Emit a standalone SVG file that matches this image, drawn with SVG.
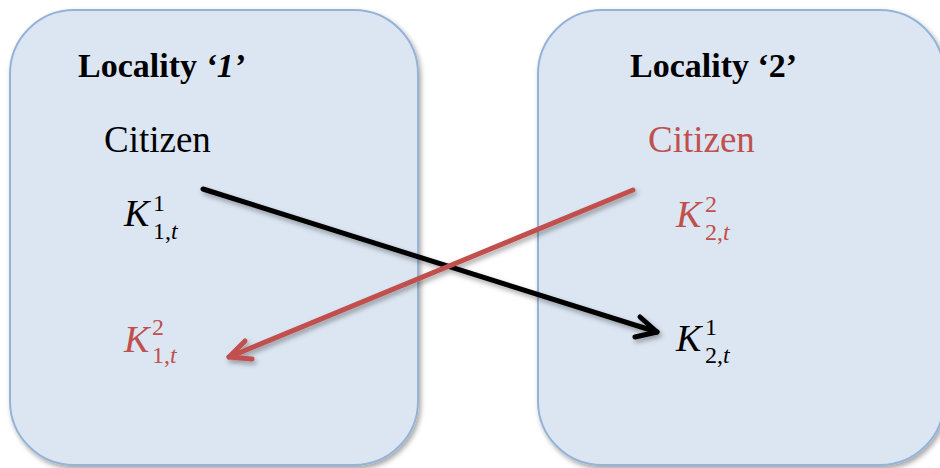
<svg xmlns="http://www.w3.org/2000/svg" width="940" height="468" viewBox="0 0 940 468">
  <defs>
    <filter id="shadow" x="-10%" y="-10%" width="130%" height="130%">
      <feDropShadow dx="2" dy="3" stdDeviation="2.5" flood-color="#000" flood-opacity="0.35"/>
    </filter>
    <style>
      .box { fill: #DCE6F2; stroke: #95B3D7; stroke-width: 2; }
      .title { font-family: "Liberation Serif", "Times New Roman", serif; font-weight: bold; font-size: 34px; fill: #000; }
      .label { font-family: "Liberation Serif", "DejaVu Serif", serif; font-size: 37px; }
      .math { font-family: "Liberation Serif", "DejaVu Serif", serif; font-size: 38px; }
      .sup { font-size: 24px; font-style: normal; }
      .ital { font-style: italic; }
      .black { fill: #000; }
      .red { fill: #C0504D; }
      .arrow { fill: none; stroke-width: 5; stroke-linecap: round; stroke-linejoin: round; }
    </style>
  </defs>

  <g id="locality-1">
    <rect class="box" x="10" y="10" width="408" height="455" rx="64" ry="64" filter="url(#shadow)"/>
    <text class="title" x="78" y="77">Locality <tspan font-style="italic">‘1’</tspan></text>
    <text class="label black" x="104" y="152">Citizen</text>
    <text class="math black" x="124" y="226"><tspan class="ital">K</tspan></text>
    <text class="math black"><tspan class="sup" x="153" y="211">1</tspan></text>
    <text class="math black"><tspan class="sup" x="153" y="239">1,<tspan class="ital">t</tspan></tspan></text>
    <text class="math red" x="124" y="352"><tspan class="ital">K</tspan></text>
    <text class="math red"><tspan class="sup" x="152" y="335">2</tspan></text>
    <text class="math red"><tspan class="sup" x="152" y="363">1,<tspan class="ital">t</tspan></tspan></text>
  </g>

  <g id="locality-2">
    <rect class="box" x="538" y="10" width="406" height="455" rx="64" ry="64" filter="url(#shadow)"/>
    <text class="title" x="630" y="77">Locality ‘2’</text>
    <text class="label red" x="648" y="152">Citizen</text>
    <text class="math red" x="676" y="227"><tspan class="ital">K</tspan></text>
    <text class="math red"><tspan class="sup" x="705" y="212">2</tspan></text>
    <text class="math red"><tspan class="sup" x="705" y="240">2,<tspan class="ital">t</tspan></tspan></text>
    <text class="math black" x="676" y="351"><tspan class="ital">K</tspan></text>
    <text class="math black"><tspan class="sup" x="705" y="335">1</tspan></text>
    <text class="math black"><tspan class="sup" x="705" y="363">2,<tspan class="ital">t</tspan></tspan></text>
  </g>

  <g id="connectors" filter="url(#shadow)">
    <g stroke="#000" class="arrow">
      <path d="M203,189 L657,332"/>
      <path d="M640,317 L657,332 L635,337"/>
    </g>
    <g stroke="#C0504D" class="arrow">
      <path d="M633,190 L229,357"/>
      <path d="M245,341 L229,357 L252,359"/>
    </g>
  </g>
</svg>
